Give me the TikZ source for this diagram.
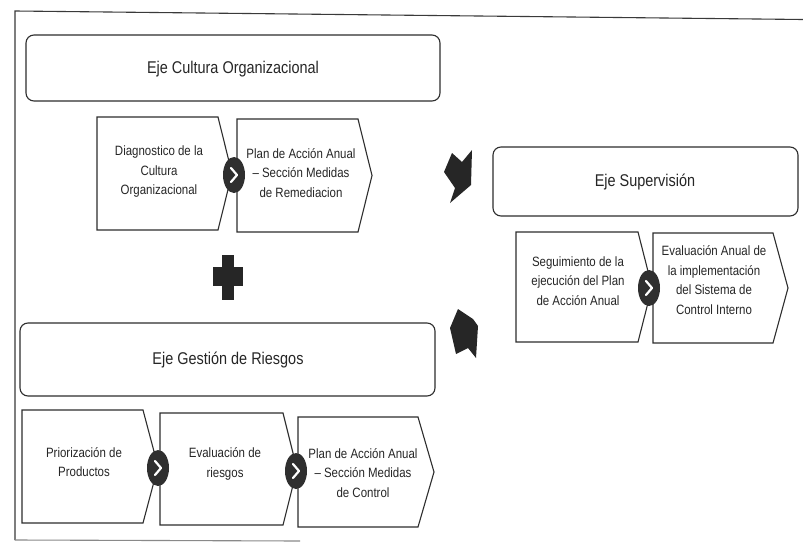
\documentclass[tikz,border=0pt]{standalone}
\usepackage{fontspec}
\setmainfont{Liberation Sans}
\newfontfamily\hdrfont[FakeStretch=0.85]{Liberation Sans}
\newfontfamily\chvfont[FakeStretch=0.85]{Liberation Sans}
\usetikzlibrary{shapes.geometric}
\definecolor{linec}{HTML}{2E2E2E}
\definecolor{txtc}{HTML}{262626}
\definecolor{dotc}{HTML}{2F2F2F}
\definecolor{blkc}{HTML}{262626}
\definecolor{framec}{HTML}{3A3A3A}
\tikzset{
  hdr/.style={draw=linec, line width=1.1pt, rounded corners=8pt},
  hdrtext/.style={font=\hdrfont\fontsize{17}{20}\selectfont, text=txtc},
  chv/.style={draw=linec, line width=1.1pt, fill=white, line join=miter},
  chvtext/.style={font=\chvfont\fontsize{13.5}{19.5}\selectfont, align=center, text=txtc, inner sep=0pt},
  dotn/.style={ellipse, fill=dotc, minimum width=22pt, minimum height=36pt, inner sep=0pt},
  tickl/.style={draw=white, line width=2.2pt, line cap=round, line join=round},
  blk/.style={fill=blkc},
  frame/.style={draw=framec, line width=1.1pt}
}
% chevron: x0 (left), x1 (flat end), x2 (point), y0 (top), y1 (bottom)
\newcommand\chevshape[5]{%
  \draw[chv] (#1,#4) -- (#2,#4) -- (#3,{(#4+#5)/2}) -- (#2,#5) -- (#1,#5) -- cycle;}
\newcommand\dotmark[3]{%
  \node[dotn] (#1) at (#2,#3) {};
  \draw[tickl] ([xshift=-3pt,yshift=7pt]#1.center) -- ([xshift=3pt]#1.center) -- ([xshift=-3pt,yshift=-7pt]#1.center);}
\begin{document}
\begin{tikzpicture}[x=1pt,y=-1pt]
\useasboundingbox (0,0) rectangle (803,546);
\fill[white] (0,0) rectangle (803,546);

% frame
\coordinate (ftl) at (15,11);
\coordinate (ftr) at (803,19.5);
\coordinate (fbl) at (15,540);
\coordinate (fbr) at (300,541);
\draw[frame] (ftr) -- (ftl) -- (fbl);
\draw[frame, draw=framec!60] (fbl) -- (fbr);

% header boxes
\draw[hdr] (26,35) rectangle (440,101);
\node[hdrtext] (hA) at (233,69) {Eje Cultura Organizacional};
\draw[hdr] (20,323) rectangle (435,396);
\node[hdrtext] (hB) at (228,360) {Eje Gestión de Riesgos};
\draw[hdr] (493,147) rectangle (798,216);
\node[hdrtext] (hC) at (645,182) {Eje Supervisión};

% row 1
\chevshape{97}{218}{232}{117}{230}
\chevshape{237}{358}{372}{119}{232}
\dotmark{c1}{234}{175}
\node[chvtext] (t1) at (159,172) {Diagnostico de la\\Cultura\\Organizacional};
\node[chvtext] (t2) at (301,173) {Plan de Acción Anual\\– Sección Medidas\\de Remediacion};

% row 2 (right)
\chevshape{516}{638}{652}{232}{342}
\chevshape{653}{773}{788}{233}{343}
\dotmark{c2}{649}{288}
\node[chvtext] (t3) at (578,281) {Seguimiento de la\\ejecución del Plan\\de Acción Anual};
\node[chvtext] (t4) at (714,280) {Evaluación Anual de\\la implementación\\del Sistema de\\Control Interno};

% row 3
\chevshape{22}{143}{158}{410}{523}
\chevshape{160}{283}{297}{413}{525}
\chevshape{298}{418}{434}{417}{527}
\dotmark{c3}{158}{468}
\dotmark{c4}{296}{471}
\node[chvtext] (t5) at (84,462) {Priorización de\\Productos};
\node[chvtext] (t6) at (225,464) {Evaluación de\\riesgos};
\node[chvtext] (t7) at (363,473) {Plan de Acción Anual\\– Sección Medidas\\de Control};

% plus sign
\fill[blk] (222,255) rectangle (234,300);
\fill[blk] (213,267) rectangle (243,286);

% block arrows
\fill[blk] (452,153) -- (462,162) -- (472,150) -- (471,185) -- (450,203) -- (455,188) -- (444,172) -- cycle;
\fill[blk] (458,309) -- (473,319) -- (478,326) -- (476,358) -- (468,348) -- (456,354) -- (450,328) -- cycle;
\end{tikzpicture}
\end{document}
